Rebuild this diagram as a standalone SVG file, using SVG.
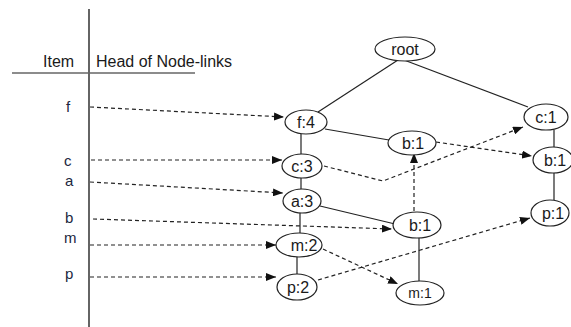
<svg xmlns="http://www.w3.org/2000/svg" width="571" height="327" viewBox="0 0 571 327">
<defs>
<marker id="ah" viewBox="0 0 10 8" refX="10" refY="4" markerWidth="10" markerHeight="8" markerUnits="userSpaceOnUse" orient="auto">
<path d="M0,0 L10,4 L0,8 Z" fill="#111"/>
</marker>
</defs>
<style>
text{font-family:"Liberation Sans",Arial,sans-serif;fill:#1a1a1a}
.hdr{font-size:16px}
.itm{font-size:15px;fill:#1c2740}
.nl{font-size:16px;text-anchor:middle}
ellipse{fill:#fff;stroke:#222;stroke-width:1.2}
.edge{stroke:#222;stroke-width:1.2;fill:none}
.link{stroke:#222;stroke-width:1.2;fill:none;stroke-dasharray:4,3;marker-end:url(#ah)}
</style>
<rect width="571" height="327" fill="#fff"/>
<g id="table">
<line x1="89" y1="9" x2="89" y2="327" stroke="#111" stroke-width="1.3"/>
<line x1="12" y1="73" x2="195" y2="73" stroke="#666" stroke-width="1.6"/>
<text class="hdr" x="43" y="67">Item</text>
<text class="hdr" x="96" y="67">Head of Node-links</text>
<text class="itm" x="66" y="112">f</text>
<text class="itm" x="64" y="166">c</text>
<text class="itm" x="65" y="186">a</text>
<text class="itm" x="65" y="223">b</text>
<text class="itm" x="64" y="243">m</text>
<text class="itm" x="65" y="279">p</text>
</g>
<g id="connectors">
<line class="edge" x1="398" y1="60" x2="318" y2="112"/>
<line class="edge" x1="404" y1="60" x2="528" y2="107"/>
<line class="edge" x1="325" y1="129" x2="389" y2="140"/>
<line class="edge" x1="301" y1="134" x2="301" y2="154"/>
<line class="edge" x1="301" y1="178" x2="301" y2="189"/>
<line class="edge" x1="300" y1="213" x2="300" y2="233"/>
<line class="edge" x1="320" y1="206" x2="395" y2="224"/>
<line class="edge" x1="297" y1="257" x2="297" y2="274" stroke-width="2"/>
<line class="edge" x1="419" y1="238" x2="419" y2="281"/>
<line class="edge" x1="554" y1="130" x2="554" y2="147"/>
<line class="edge" x1="554" y1="173" x2="554" y2="200"/>
<line class="link" x1="90" y1="107" x2="284" y2="117"/>
<line class="link" x1="91" y1="160" x2="282" y2="160"/>
<line class="link" x1="90" y1="182" x2="283" y2="193"/>
<line class="link" x1="93" y1="219" x2="392" y2="229"/>
<line class="link" x1="90" y1="245" x2="276" y2="245"/>
<line class="link" x1="90" y1="277" x2="276" y2="277" stroke-width="1.8"/>
<line class="link" x1="436" y1="142" x2="532" y2="156"/>
<polyline class="link" points="324,166 383,181 523,127"/>
<line class="link" x1="414" y1="211" x2="414" y2="153" stroke-width="2" stroke-dasharray="3,3"/>
<line class="link" x1="323" y1="249" x2="398" y2="284" stroke-dasharray="7,4"/>
<line class="link" x1="318" y1="280" x2="530" y2="218"/>
</g>
<g id="n-root"><ellipse cx="405" cy="49" rx="30" ry="12"/><text class="nl" x="405" y="55">root</text></g>
<g id="n-f4"><ellipse cx="306" cy="122" rx="21" ry="12"/><text class="nl" x="306" y="128">f:4</text></g>
<g id="n-b1a"><ellipse cx="412" cy="143" rx="24" ry="12"/><text class="nl" x="413" y="149">b:1</text></g>
<g id="n-c1"><ellipse cx="546" cy="117" rx="22" ry="13"/><text class="nl" x="546" y="123">c:1</text></g>
<g id="n-b1r"><ellipse cx="553" cy="160" rx="20" ry="13"/><text class="nl" x="555" y="166">b:1</text></g>
<g id="n-c3"><ellipse cx="302" cy="166" rx="20" ry="12"/><text class="nl" x="302" y="172">c:3</text></g>
<g id="n-a3"><ellipse cx="302" cy="201" rx="19" ry="12"/><text class="nl" x="302" y="207">a:3</text></g>
<g id="n-b1m"><ellipse cx="417" cy="225" rx="24" ry="13"/><text class="nl" x="420" y="231">b:1</text></g>
<g id="n-p1"><ellipse cx="550" cy="213" rx="19" ry="13"/><text class="nl" x="553" y="219">p:1</text></g>
<g id="n-m2"><ellipse cx="299" cy="245" rx="23" ry="12"/><text class="nl" x="304" y="251">m:2</text></g>
<g id="n-p2"><ellipse cx="297" cy="287" rx="20" ry="13"/><text class="nl" x="298" y="293">p:2</text></g>
<g id="n-m1"><ellipse cx="420" cy="293" rx="24" ry="12"/><text class="nl" x="420" y="298" style="font-size:14px">m:1</text></g>
</svg>
